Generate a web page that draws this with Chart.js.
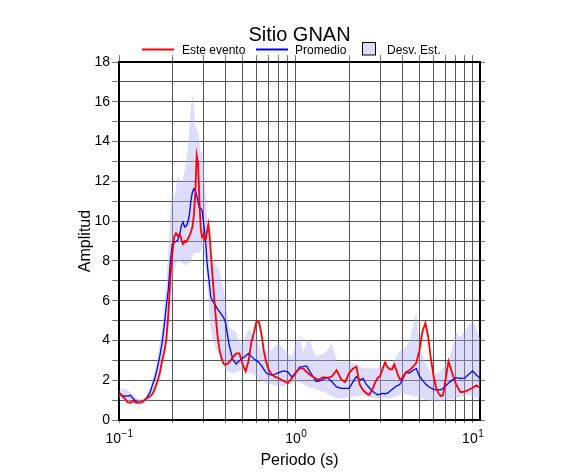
<!DOCTYPE html>
<html>
<head>
<meta charset="utf-8">
<script src="https://cdn.jsdelivr.net/npm/chart.js@4.4.1/dist/chart.umd.min.js"></script>
<style>
  body { margin: 0; background: #fff; }
  canvas { display: block; }
</style>
</head>
<body>
<canvas id="chart" width="586" height="475"></canvas>
<script>
// Periods (s) shared by every series
const periods = [
  0.100, 0.104, 0.108, 0.112, 0.116, 0.120, 0.125, 0.130, 0.135, 0.140,
  0.145, 0.150, 0.155, 0.160, 0.165, 0.170, 0.175, 0.180, 0.185, 0.190,
  0.195, 0.200, 0.205, 0.210, 0.215, 0.220, 0.225, 0.230, 0.235, 0.240,
  0.245, 0.250, 0.255, 0.260, 0.265, 0.270, 0.275, 0.280, 0.285, 0.290,
  0.295, 0.300, 0.305, 0.310, 0.315, 0.320, 0.325, 0.330, 0.340, 0.350,
  0.360, 0.370, 0.380, 0.390, 0.400, 0.420, 0.440, 0.460, 0.480, 0.500,
  0.520, 0.540, 0.560, 0.580, 0.600, 0.620, 0.640, 0.660, 0.680, 0.700,
  0.730, 0.760, 0.800, 0.850, 0.900, 0.950, 1.00, 1.05, 1.10, 1.15,
  1.20, 1.25, 1.30, 1.35, 1.40, 1.45, 1.50, 1.60, 1.70, 1.80,
  1.90, 2.00, 2.10, 2.20, 2.30, 2.40, 2.50, 2.60, 2.70, 2.80,
  2.90, 3.00, 3.10, 3.20, 3.30, 3.40, 3.50, 3.60, 3.70, 3.80,
  3.90, 4.00, 4.20, 4.40, 4.60, 4.80, 5.00, 5.20, 5.40, 5.60,
  5.80, 6.00, 6.20, 6.40, 6.60, 6.80, 7.00, 7.30, 7.60, 8.00,
  8.50, 9.00, 9.50, 10.0, 10.5, 11.0
];

// "Este evento" (red)
const esteEvento = [
  1.32, 1.22, 1.08, 0.89, 0.87, 0.97, 0.88, 0.87, 0.90, 1.02,
  1.12, 1.19, 1.32, 1.60, 1.95, 2.35, 2.95, 3.40, 4.00, 5.30,
  7.10, 8.30, 9.20, 9.40, 9.25, 9.35, 9.10, 8.85, 9.00, 8.96,
  9.10, 9.25, 9.45, 9.70, 10.3, 11.4, 13.3, 12.9, 11.0, 9.60,
  9.20, 9.30, 9.05, 9.10, 9.50, 9.85, 9.30, 8.50, 6.90, 5.50,
  4.30, 3.55, 3.10, 2.83, 2.77, 2.90, 3.15, 3.35, 3.35, 2.80,
  2.45, 2.95, 3.90, 4.40, 5.00, 4.90, 4.30, 3.45, 2.90, 2.55,
  2.30, 2.18, 2.10, 1.97, 1.85, 2.10, 2.38, 2.60, 2.60, 2.42,
  2.28, 2.18, 2.08, 2.02, 2.12, 2.15, 2.10, 2.20, 2.50, 2.05,
  1.90, 2.35, 2.58, 2.68, 1.78, 1.50, 1.35, 1.27, 1.50, 1.85,
  2.12, 2.22, 2.60, 2.90, 2.65, 2.55, 2.55, 2.80, 2.52, 2.20,
  2.02, 2.12, 2.40, 2.50, 2.68, 2.88, 3.50, 4.45, 4.87, 4.20,
  3.10, 2.25, 1.65, 1.35, 1.20, 1.25, 1.95, 2.95, 2.45, 1.85,
  1.40, 1.42, 1.52, 1.62, 1.74, 1.62
];

// "Promedio" (blue)
const promedio = [
  1.38, 1.24, 1.20, 1.20, 1.24, 1.09, 0.93, 0.87, 0.90, 1.00,
  1.18, 1.40, 1.80, 2.15, 2.65, 3.20, 3.85, 4.70, 5.70, 6.55,
  7.90, 8.82, 8.93, 8.98, 9.05, 9.30, 9.75, 9.95, 9.70, 9.75,
  9.95, 10.3, 11.0, 11.45, 11.62, 11.5, 11.28, 10.95, 10.65, 10.65,
  10.55, 10.0, 9.45, 8.80, 7.90, 7.30, 6.80, 6.20, 5.95, 5.80,
  5.58, 5.45, 5.30, 5.15, 4.90, 3.75, 3.05, 2.82, 2.98, 3.12,
  3.22, 3.35, 3.20, 3.07, 2.98, 2.88, 2.72, 2.55, 2.37, 2.30,
  2.26, 2.30, 2.38, 2.47, 2.42, 2.15, 2.40, 2.66, 2.68, 2.72,
  2.43, 2.20, 1.95, 1.96, 2.00, 2.08, 2.15, 1.92, 1.66, 1.59,
  1.59, 1.59, 1.90, 2.18, 2.00, 2.09, 1.80, 1.62, 1.46, 1.36,
  1.27, 1.30, 1.34, 1.32, 1.35, 1.45, 1.53, 1.62, 1.71, 1.74,
  1.82, 2.02, 2.40, 2.36, 2.50, 2.58, 2.20, 2.00, 1.82, 1.70,
  1.61, 1.54, 1.51, 1.51, 1.52, 1.60, 1.70, 1.86, 1.98, 2.13,
  2.09, 2.10, 2.30, 2.47, 2.26, 2.10
];

// "Desv. Est." band, lower and upper edges
const desvInf = [
  1.10, 1.02, 0.95, 0.88, 0.83, 0.80, 0.76, 0.75, 0.78, 0.85,
  0.95, 1.05, 1.30, 1.45, 1.80, 2.20, 2.70, 3.30, 4.00, 4.60,
  5.60, 6.80, 7.50, 7.80, 8.00, 8.00, 7.90, 7.85, 7.80, 7.80,
  7.85, 7.87, 8.00, 8.20, 8.40, 8.40, 8.40, 8.40, 8.40, 8.50,
  8.60, 8.70, 8.20, 7.60, 7.00, 6.20, 5.20, 4.60, 4.00, 3.70,
  3.40, 3.20, 3.00, 2.80, 2.55, 2.40, 2.35, 2.40, 2.48, 2.50,
  2.45, 2.38, 2.35, 2.25, 2.15, 2.05, 2.00, 1.92, 1.86, 1.84,
  1.78, 1.72, 1.67, 1.70, 1.76, 1.82, 1.90, 1.90, 1.80, 1.70,
  1.64, 1.58, 1.53, 1.50, 1.45, 1.40, 1.35, 1.20, 1.09, 1.08,
  1.09, 1.12, 1.17, 1.20, 1.23, 1.26, 1.20, 1.15, 1.12, 1.10,
  1.09, 1.09, 1.09, 1.09, 1.09, 1.09, 1.12, 1.15, 1.20, 1.25,
  1.30, 1.34, 1.30, 1.25, 1.20, 1.17, 1.12, 1.07, 1.02, 0.98,
  0.95, 0.93, 0.92, 0.93, 0.95, 0.97, 1.00, 1.03, 1.06, 1.09,
  1.15, 1.22, 1.25, 1.18, 1.12, 1.10
];
const desvSup = [
  1.45, 1.60, 1.60, 1.50, 1.40, 1.25, 1.10, 1.05, 1.05, 1.15,
  1.35, 1.60, 2.10, 2.50, 3.10, 3.90, 4.60, 5.60, 6.90, 8.50,
  10.6, 11.5, 11.2, 11.6, 12.3, 12.1, 11.8, 12.2, 12.5, 13.0,
  13.7, 14.6, 15.8, 16.4, 15.9, 14.8, 14.6, 14.5, 13.9, 13.5,
  13.4, 13.2, 12.0, 11.2, 10.2, 9.20, 8.60, 8.35, 8.10, 7.90,
  7.70, 7.50, 7.00, 6.60, 6.00, 4.65, 4.55, 4.40, 3.90, 3.80,
  4.20, 4.55, 4.45, 4.25, 4.00, 3.75, 3.52, 3.50, 3.50, 3.50,
  3.52, 3.70, 3.85, 3.60, 3.35, 3.20, 3.90, 4.20, 3.45, 3.90,
  4.10, 3.50, 3.20, 3.25, 3.30, 3.35, 3.50, 3.85, 3.00, 2.90,
  3.00, 2.90, 2.85, 2.80, 2.70, 2.60, 2.60, 2.60, 2.60, 2.60,
  2.60, 2.65, 2.70, 2.75, 2.70, 2.70, 2.85, 3.00, 3.20, 3.35,
  3.50, 3.55, 3.68, 4.00, 4.80, 5.40, 3.80, 3.30, 2.90, 2.60,
  2.45, 2.40, 2.35, 2.40, 2.50, 2.60, 2.80, 3.10, 3.50, 4.40,
  4.20, 4.45, 4.75, 5.02, 4.60, 4.10
];

// Axis ticks
const xGridTicks = [0.1, 0.2, 0.3, 0.4, 0.5, 0.6, 0.7, 0.8, 0.9, 1, 2, 3, 4, 5, 6, 7, 8, 9, 10];
const xLabelValues = [0.1, 1, 10];
const xLabelExponents = ["\u22121", "0", "1"];
const yMin = 0;
const yMax = 18;

const FONT = '"Liberation Sans", Arial, Helvetica, sans-serif';
const GRID_COLOR = "#555";
const TICK_COLOR = "#777";
const BAND_COLOR = "rgba(170,170,245,0.4)";

const toPoints = values => periods.map((p, i) => ({ x: p, y: values[i] }));

// Fixed axis boxes so the plot area lands where the original one is
const fixSize = size => scale => {
  if (scale.isHorizontal()) scale.height = size;
  else scale.width = size;
};
const setLogTicks = scale => {
  scale.ticks = xGridTicks.map(v => ({ value: v }));
};

// Title, legend, axis titles and x tick labels
const decorPlugin = {
  id: "decor",
  afterDraw(chart) {
    const ctx = chart.ctx;
    const area = chart.chartArea;
    const xScale = chart.scales.x;
    const midX = (area.left + area.right) / 2;
    ctx.save();
    ctx.fillStyle = "#000";

    ctx.font = "20px " + FONT;
    ctx.textAlign = "center";
    ctx.textBaseline = "alphabetic";
    ctx.fillText("Sitio GNAN", midX, 40.5);

    // legend
    ctx.font = "12px " + FONT;
    ctx.textAlign = "left";
    ctx.lineWidth = 2;
    ctx.strokeStyle = "#ff0000";
    ctx.beginPath(); ctx.moveTo(142, 49.5); ctx.lineTo(174, 49.5); ctx.stroke();
    ctx.fillText("Este evento", 182, 53.5);
    ctx.strokeStyle = "#0000ff";
    ctx.beginPath(); ctx.moveTo(256, 49.5); ctx.lineTo(288, 49.5); ctx.stroke();
    ctx.fillText("Promedio", 295, 53.5);
    ctx.fillStyle = "rgb(221,221,251)";
    ctx.fillRect(362.5, 42.5, 13, 12.5);
    ctx.lineWidth = 1;
    ctx.strokeStyle = "#000";
    ctx.strokeRect(362.5, 42.5, 13, 12.5);
    ctx.fillStyle = "#000";
    ctx.fillText("Desv. Est.", 387, 53.5);

    // x tick labels with superscript exponents
    xLabelValues.forEach((v, i) => {
      const px = xScale.getPixelForValue(v);
      ctx.font = "14px " + FONT;
      const baseW = ctx.measureText("10").width;
      ctx.font = "10px " + FONT;
      const expW = ctx.measureText(xLabelExponents[i]).width;
      const left = px - (baseW + expW) / 2;
      ctx.font = "14px " + FONT;
      ctx.fillText("10", left, 443);
      ctx.font = "10px " + FONT;
      ctx.fillText(xLabelExponents[i], left + baseW + 0.5, 437);
    });

    // axis titles
    ctx.font = "16px " + FONT;
    ctx.textAlign = "center";
    ctx.fillText("Periodo (s)", midX, 465);
    ctx.translate(90, (area.top + area.bottom) / 2);
    ctx.rotate(-Math.PI / 2);
    ctx.fillText("Amplitud", 0, 0);
    ctx.restore();
  }
};

const noLabels = { display: false };
const frame = { display: true, color: "#000", width: 2 };

new Chart(document.getElementById("chart"), {
  type: "line",
  data: {
    datasets: [
      {
        label: "Desv. Est. inf",
        data: toPoints(desvInf),
        borderColor: "transparent",
        borderWidth: 0,
        pointRadius: 0,
        fill: false,
        order: 3,
      },
      {
        label: "Desv. Est.",
        data: toPoints(desvSup),
        borderColor: "transparent",
        borderWidth: 0,
        backgroundColor: BAND_COLOR,
        pointRadius: 0,
        fill: "-1",
        order: 2,
      },
      {
        label: "Promedio",
        data: toPoints(promedio),
        borderColor: "#0000ff",
        borderWidth: 1.3,
        pointRadius: 0,
        fill: false,
        order: 1,
      },
      {
        label: "Este evento",
        data: toPoints(esteEvento),
        borderColor: "#ff0000",
        borderWidth: 1.8,
        pointRadius: 0,
        fill: false,
        order: 0,
      },
    ],
  },
  options: {
    responsive: false,
    animation: false,
    layout: { padding: 0 },
    plugins: {
      legend: { display: false },
      title: { display: false },
      tooltip: { enabled: false },
    },
    scales: {
      x: {
        type: "logarithmic",
        position: "bottom",
        min: 0.1,
        max: 11,
        afterBuildTicks: setLogTicks,
        afterFit: fixSize(55),
        ticks: noLabels,
        grid: { color: GRID_COLOR, lineWidth: 1, tickLength: 3, tickColor: TICK_COLOR },
        border: frame,
      },
      x2: {
        type: "logarithmic",
        position: "top",
        min: 0.1,
        max: 11,
        afterBuildTicks: setLogTicks,
        afterFit: fixSize(62),
        ticks: noLabels,
        grid: { drawOnChartArea: false, tickLength: 7, tickColor: TICK_COLOR },
        border: frame,
      },
      y: {
        position: "left",
        min: yMin,
        max: yMax,
        afterFit: fixSize(119),
        ticks: {
          stepSize: 1,
          padding: 2,
          color: "#000",
          font: { family: FONT, size: 14 },
          callback: v => (v % 2 === 0 ? String(v) : ""),
        },
        grid: { color: GRID_COLOR, lineWidth: 1, tickLength: 7, tickColor: TICK_COLOR },
        border: frame,
      },
      y2: {
        position: "right",
        min: yMin,
        max: yMax,
        afterFit: fixSize(106),
        ticks: { stepSize: 1, display: false },
        grid: { drawOnChartArea: false, tickLength: 5, tickColor: TICK_COLOR },
        border: frame,
      },
    },
  },
  plugins: [decorPlugin],
});
</script>
</body>
</html>
